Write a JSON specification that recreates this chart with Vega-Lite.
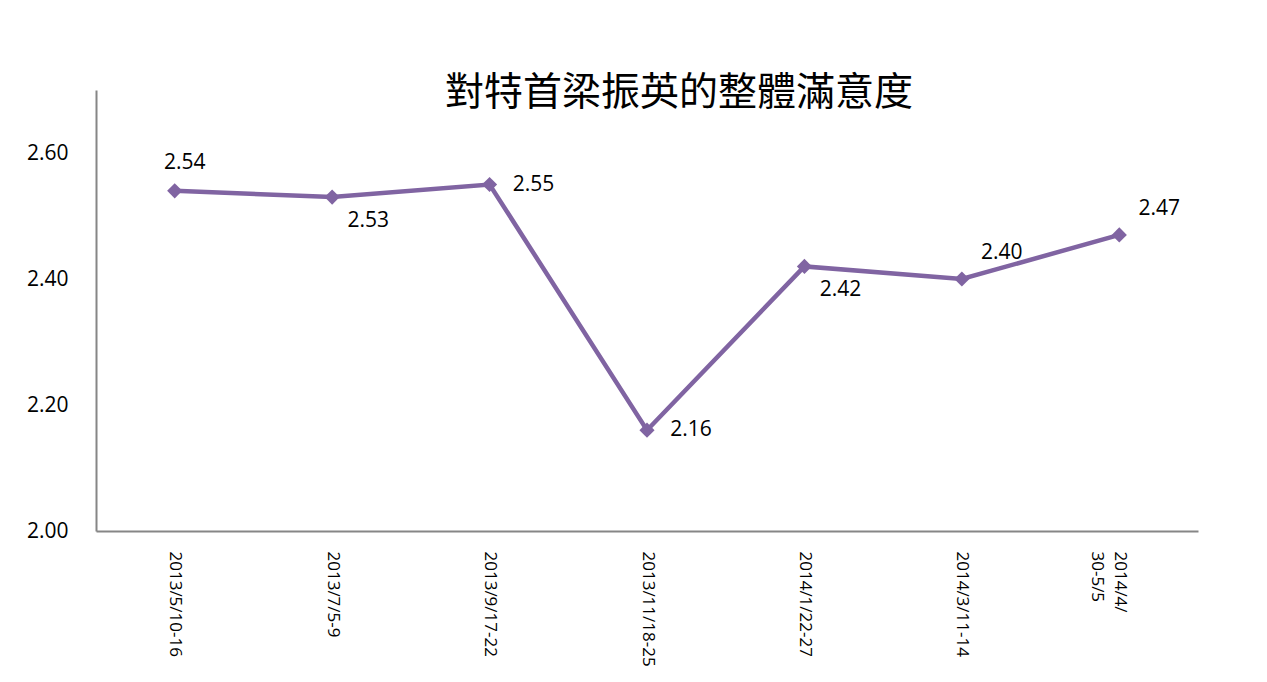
{
  "$schema": "https://vega.github.io/schema/vega-lite/v6.json",
  "autosize": {"type": "none"},
  "width": 1102,
  "height": 441,
  "padding": {"left": 96, "top": 90, "right": 69, "bottom": 151},
  "background": "white",
  "title": {
    "text": "對特首梁振英的整體滿意度",
    "font": "Noto Sans CJK TC",
    "fontSize": 39,
    "fontWeight": "normal",
    "color": "black",
    "anchor": "middle",
    "baseline": "bottom",
    "dx": 32,
    "offset": -62
  },
  "config": {
    "view": {"stroke": null},
    "axis": {"grid": false, "ticks": false, "domainColor": "#868686", "domainWidth": 2, "labelColor": "black", "labelFont": "Open Sans"}
  },
  "data": {
    "values": [
      {"date": "2013/5/10-16", "score": 2.54},
      {"date": "2013/7/5-9", "score": 2.53},
      {"date": "2013/9/17-22", "score": 2.55},
      {"date": "2013/11/18-25", "score": 2.16},
      {"date": "2014/1/22-27", "score": 2.42},
      {"date": "2014/3/11-14", "score": 2.40},
      {"date": "2014/4/\n30-5/5", "score": 2.47}
    ]
  },
  "encoding": {
    "x": {
      "field": "date", "type": "nominal", "sort": null,
      "scale": {"type": "point", "padding": 0.5},
      "axis": {"title": null, "labelAngle": 90, "labelFontSize": 17, "labelPadding": 20, "labelAlign": "left", "labelBaseline": "middle", "labelExpr": "split(datum.label, '\\n')", "labelLineHeight": 23}
    },
    "y": {
      "field": "score", "type": "quantitative",
      "scale": {"domain": [2, 2.7], "zero": false, "nice": false},
      "axis": {"title": null, "values": [2, 2.2, 2.4, 2.6], "format": ".2f", "labelFontSize": 21, "labelPadding": 28}
    }
  },
  "layer": [
    {"mark": {"type": "line", "color": "#8064A2", "strokeWidth": 4.5}},
    {"mark": {"type": "point", "shape": "diamond", "filled": true, "color": "#8064A2", "opacity": 1, "size": 230}},
    {
      "transform": [{"filter": {"field": "date", "oneOf": ["2013/9/17-22", "2013/11/18-25"]}}],
      "mark": {"type": "text", "fontSize": 21, "font": "Open Sans", "color": "black", "dx": 44, "dy": 0},
      "encoding": {"text": {"field": "score", "type": "quantitative", "format": ".2f"}}
    },
    {
      "transform": [{"filter": {"field": "date", "oneOf": ["2014/3/11-14", "2014/4/\n30-5/5"]}}],
      "mark": {"type": "text", "fontSize": 21, "font": "Open Sans", "color": "black", "dx": 40, "dy": -26},
      "encoding": {"text": {"field": "score", "type": "quantitative", "format": ".2f"}}
    },
    {
      "transform": [{"filter": {"field": "date", "oneOf": ["2013/7/5-9", "2014/1/22-27"]}}],
      "mark": {"type": "text", "fontSize": 21, "font": "Open Sans", "color": "black", "dx": 36, "dy": 24},
      "encoding": {"text": {"field": "score", "type": "quantitative", "format": ".2f"}}
    },
    {
      "transform": [{"filter": {"field": "date", "oneOf": ["2013/5/10-16"]}}],
      "mark": {"type": "text", "fontSize": 21, "font": "Open Sans", "color": "black", "dx": 10, "dy": -28},
      "encoding": {"text": {"field": "score", "type": "quantitative", "format": ".2f"}}
    }
  ]
}
